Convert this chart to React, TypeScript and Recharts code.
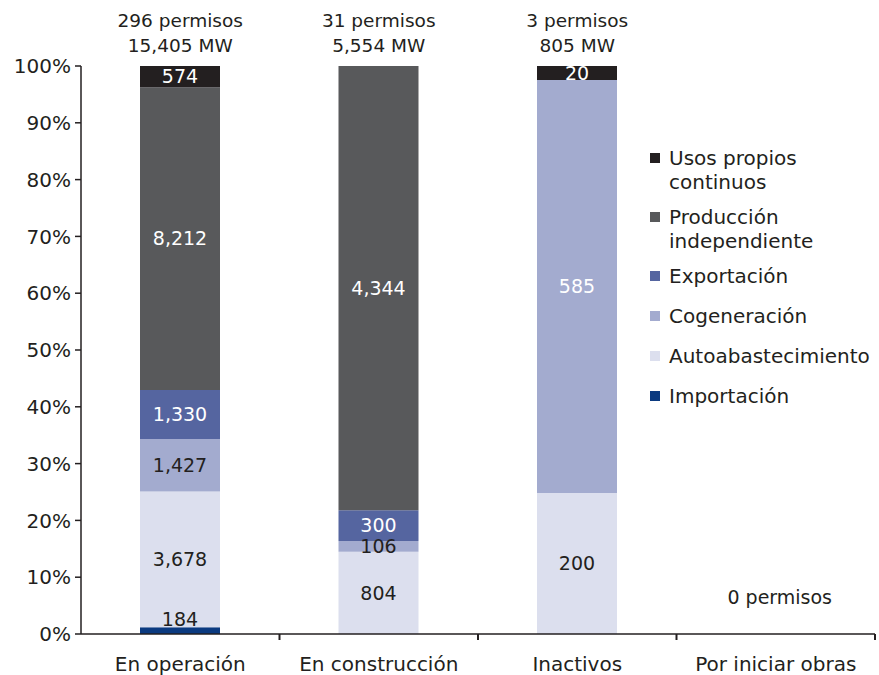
import React from 'react';
import { BarChart, Bar, XAxis, YAxis, Legend, LabelList } from 'recharts';

const categories = ['En operación', 'En construcción', 'Inactivos', 'Por iniciar obras'];
const importacion = [184, 0, 0, 0];
const autoabastecimiento = [3678, 804, 200, 0];
const cogeneracion = [1427, 106, 585, 0];
const exportacion = [1330, 300, 0, 0];
const produccion = [8212, 4344, 0, 0];
const usosPropios = [574, 0, 20, 0];
const permisos = [296, 31, 3, 0];
const capacidadMW = [15405, 5554, 805, 0];
const yTicks = [0, 0.1, 0.2, 0.3, 0.4, 0.5, 0.6, 0.7, 0.8, 0.9, 1];

const FONT = '"DejaVu Sans", sans-serif';
const INK = '#231f20';

const data = categories.map((name, i) => ({
  name,
  importacion: importacion[i],
  autoabastecimiento: autoabastecimiento[i],
  cogeneracion: cogeneracion[i],
  exportacion: exportacion[i],
  produccion: produccion[i],
  usosPropios: usosPropios[i],
}));

// bottom to top
const series = [
  { key: 'importacion', name: 'Importación', color: '#0b3a80', labelColors: [INK, INK, INK, INK], top: true },
  { key: 'autoabastecimiento', name: 'Autoabastecimiento', color: '#dcdfee', labelColors: [INK, INK, INK, INK] },
  { key: 'cogeneracion', name: 'Cogeneración', color: '#a3abcf', labelColors: [INK, INK, '#fff', INK] },
  { key: 'exportacion', name: 'Exportación', color: '#5565a0', labelColors: ['#fff', '#fff', '#fff', '#fff'] },
  { key: 'produccion', name: ['Producción', 'independiente'], color: '#58595b', labelColors: ['#fff', '#fff', '#fff', '#fff'] },
  { key: 'usosPropios', name: ['Usos propios', 'continuos'], color: '#231f20', labelColors: ['#fff', '#fff', '#fff', '#fff'] },
];

const fmt = (v: number) => v.toLocaleString('en-US');

const makeLabel = (s: any) => (props: any) => {
  const { x, y, width, height, value, index } = props;
  if (!value) return null;
  const cy = s.top ? y - 8 : y + height / 2;
  return (
    <text x={x + width / 2} y={cy} dy="0.36em" textAnchor="middle" fill={s.labelColors[index]}
      fontSize={19} fontFamily={FONT}>
      {fmt(value)}
    </text>
  );
};

const BottomTick = (props: any) => {
  const { x, y, payload, index } = props;
  const half = payload.offset ?? 99.25;
  return (
    <g>
      <line x1={x + half} x2={x + half} y1={y - 10} y2={y - 4} stroke={INK} strokeWidth={2} />
      <text x={x} y={y + 27} textAnchor="middle" fill={INK} fontSize={20} fontFamily={FONT}>{payload.value}</text>
      {permisos[index] === 0 && (
        <text x={x + 4} y={y - 40} textAnchor="middle" fill={INK} fontSize={19} fontFamily={FONT}>
          {`${permisos[index]} permisos`}
        </text>
      )}
    </g>
  );
};

const TopTick = (props: any) => {
  const { x, y, index } = props;
  if (!permisos[index]) return null;
  return (
    <g fill={INK} fontSize={18.5} fontFamily={FONT}>
      <text x={x} y={y - 39} textAnchor="middle">{`${permisos[index]} permisos`}</text>
      <text x={x} y={y - 14} textAnchor="middle">{`${fmt(capacidadMW[index])} MW`}</text>
    </g>
  );
};

const renderLegend = () => (
  <div style={{ fontFamily: FONT, fontSize: 20, color: INK, width: 230 }}>
    {[...series].reverse().map((s) => {
      const lines = Array.isArray(s.name) ? s.name : [s.name];
      return (
        <div key={s.key} style={{ display: 'flex', alignItems: 'flex-start', marginBottom: lines.length > 1 ? 11 : 16, lineHeight: '24px' }}>
          <div style={{ width: 10, height: 10, background: s.color, marginTop: 7, marginRight: 9, flexShrink: 0 }} />
          <div>
            {lines.map((l) => (
              <div key={l}>{l}</div>
            ))}
          </div>
        </div>
      );
    })}
  </div>
);

export default function App() {
  return (
    <div style={{ position: 'absolute', left: 0, top: 0, background: '#fff' }}>
      <BarChart width={879} height={675} data={data} stackOffset="expand"
        margin={{ top: 0, right: 4, bottom: 0, left: 0 }}>
        <XAxis xAxisId="bottom" dataKey="name" height={41} tick={<BottomTick />} tickLine={false}
          tickSize={6} tickMargin={4} axisLine={{ stroke: INK, strokeWidth: 1.5 }} interval={0} />
        <XAxis xAxisId="top" dataKey="name" orientation="top" height={66} tick={<TopTick />}
          tickLine={false} axisLine={false} tickSize={0} tickMargin={0} interval={0} />
        <YAxis width={81} domain={[0, 1]} ticks={yTicks} tickFormatter={(v) => `${Math.round(v * 100)}%`}
          tick={{ fill: INK, fontSize: 20, fontFamily: FONT }} tickSize={6} tickMargin={4}
          tickLine={{ stroke: INK, strokeWidth: 1.5 }} axisLine={{ stroke: INK, strokeWidth: 1.5 }} />
        <Legend content={renderLegend} layout="vertical" align="center" verticalAlign="middle"
          wrapperStyle={{ top: 146, left: 650, width: 230, height: 'auto' }} />
        {series.map((s) => (
          <Bar key={s.key} xAxisId="bottom" dataKey={s.key} stackId="a" fill={s.color} barSize={80}
            isAnimationActive={false}>
            <LabelList dataKey={s.key} content={makeLabel(s)} />
          </Bar>
        ))}
      </BarChart>
    </div>
  );
}
